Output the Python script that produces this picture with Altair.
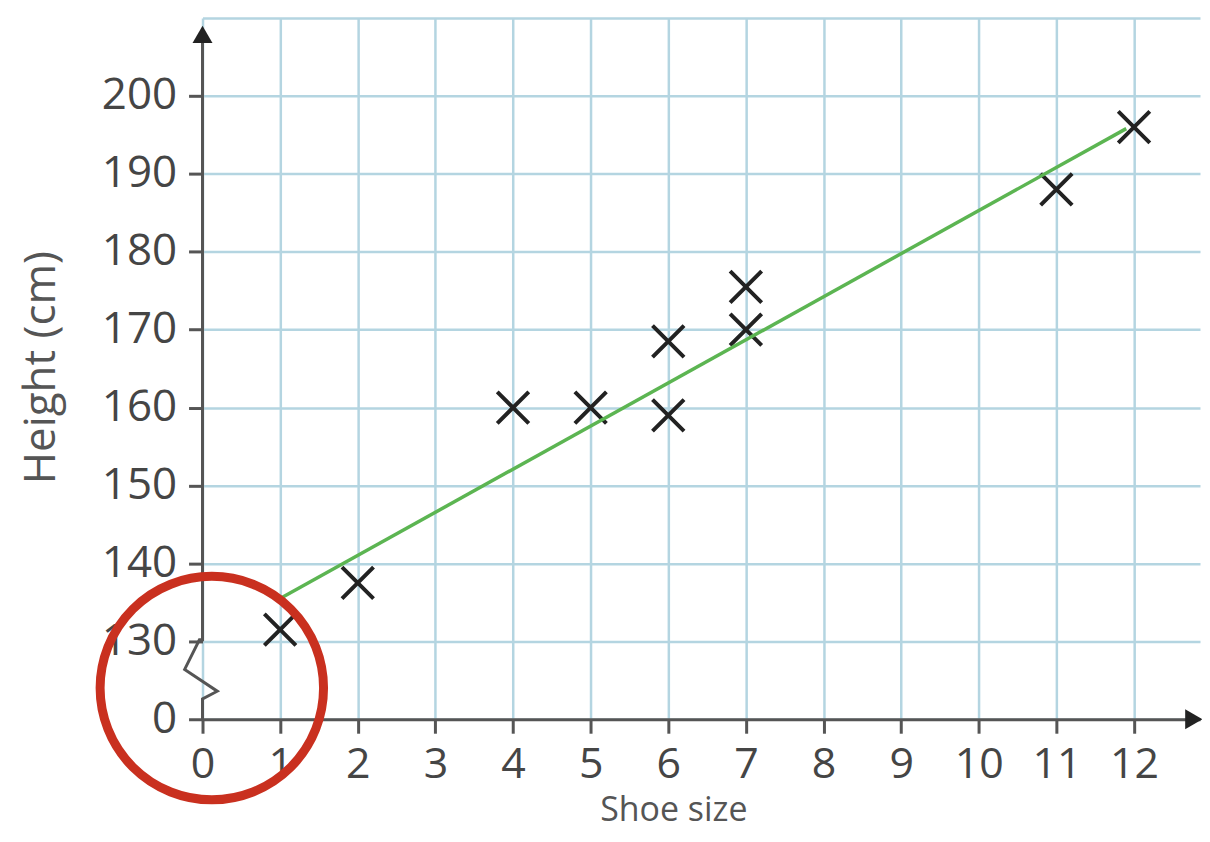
import altair as alt
import pandas as pd

# data
shoe_size = [1, 2, 4, 5, 6, 6, 7, 7, 11, 12]
height_cm = [131.5, 137.5, 160, 160, 168.5, 159, 175.5, 170, 188, 196]

fit_x = [1.0, 11.9]
fit_y = [135.5, 195.8]

x_ticks = list(range(0, 13))
y_ticks = [120, 130, 140, 150, 160, 170, 180, 190, 200, 210]   # 120 shown as "0" (broken axis); 210 = grid only

# decorations, in data units
yaxis_x = [0, 0, -0.04, -0.23, 0.19, 0, 0]
yaxis_y = [208, 130.2, 130.2, 126.4, 123.6, 122.6, 120]

X_MAX = 12.85
Y_MIN, Y_MAX = 120, 210

GRID = "#b4d5e1"
AXIS = "#555555"
TEXT = "#454545"
FONT = "Open Sans"

xs = alt.Scale(domain=[0, X_MAX], nice=False, zero=False)
ys = alt.Scale(domain=[Y_MIN, Y_MAX], nice=False, zero=False)

pts = pd.DataFrame({"x": shoe_size, "y": height_cm})
fit = pd.DataFrame({"x": fit_x, "y": fit_y})
yline = pd.DataFrame({"x": yaxis_x, "y": yaxis_y, "o": list(range(len(yaxis_x)))})

x_axis = alt.Axis(
    values=x_ticks, format="d", grid=True, gridColor=GRID, gridWidth=2.5,
    domainColor=AXIS, domainWidth=3, tickColor=AXIS, tickWidth=3, tickSize=14,
    labelFont=FONT, labelFontSize=43, labelColor=TEXT, labelPadding=10,
    labelFlush=False, labelOverlap=False,
    title="Shoe size", titleFont=FONT, titleFontSize=34, titleFontWeight="normal",
    titleColor="#555555", titleX=472, titleY=102, titleBaseline="alphabetic",
    titleAlign="center", titleAnchor="start", zindex=0,
)
y_axis = alt.Axis(
    values=y_ticks, grid=True, gridColor=GRID, gridWidth=2.5, domain=False,
    tickColor=AXIS, tickWidth=3, tickSize=14,
    tickOpacity={"condition": {"test": "datum.value >= 210", "value": 0}, "value": 1},
    labelFont=FONT, labelFontSize=44, labelColor=TEXT, labelPadding=12,
    labelFlush=False, labelOverlap=False,
    labelExpr="datum.value == 120 ? '0' : (datum.value >= 210 ? '' : datum.label)",
    title="Height (cm)", titleFont=FONT, titleFontSize=44, titleFontWeight="normal",
    titleColor="#555555", titleX=-148, titleY=350, titleBaseline="alphabetic",
    titleAlign="center", titleAnchor="start", titleAngle=270, zindex=0,
)

base = alt.Chart(pts).mark_point(
    shape="M-1,-1L1,1M-1,1L1,-1", size=1000, filled=False,
    stroke="#222222", strokeWidth=4, opacity=1,
).encode(
    x=alt.X("x:Q", scale=xs, axis=x_axis),
    y=alt.Y("y:Q", scale=ys, axis=y_axis),
)

fit_line = alt.Chart(fit).mark_line(color="#5cb552", strokeWidth=3.5).encode(
    x=alt.X("x:Q", scale=xs), y=alt.Y("y:Q", scale=ys)
)

y_line = alt.Chart(yline).mark_line(color=AXIS, strokeWidth=3).encode(
    x=alt.X("x:Q", scale=xs), y=alt.Y("y:Q", scale=ys), order="o:O"
)

arrows = alt.Chart(pd.DataFrame({
    "x": [0, 12.77], "y": [207.9, 120], "s": ["triangle-up", "triangle-right"]
})).mark_point(filled=True, color="#222222", size=400, opacity=1).encode(
    x=alt.X("x:Q", scale=xs), y=alt.Y("y:Q", scale=ys),
    shape=alt.Shape("s:N", scale=None, legend=None),
)

circle = alt.Chart(pd.DataFrame({"x": [0.12], "y": [124]})).mark_point(
    shape="circle", size=50176, filled=False, stroke="#c9301f",
    strokeWidth=9, opacity=1,
).encode(x=alt.X("x:Q", scale=xs), y=alt.Y("y:Q", scale=ys))

chart = alt.layer(base, fit_line, y_line, arrows, circle).properties(
    width=1000, height=703,
    background="white",
    autosize=alt.AutoSizeParams(type="none"),
    padding={"left": 195, "top": 9, "right": 2, "bottom": 112},
).configure_view(stroke=None, strokeWidth=0)

chart.save("out.html", embed_options={"renderer": "svg", "actions": False})
